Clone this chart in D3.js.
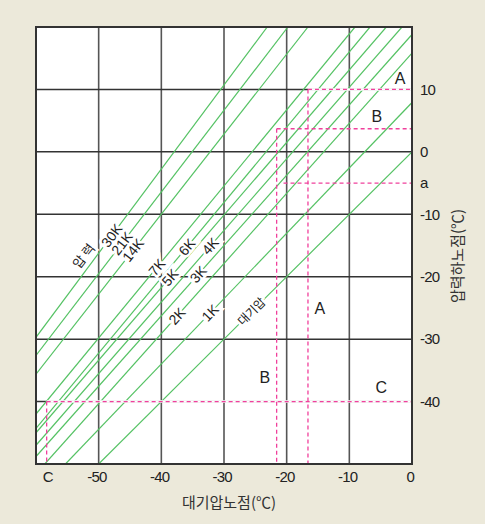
<!DOCTYPE html>
<html>
<head>
<meta charset="utf-8">
<script src="https://d3js.org/d3.v7.min.js"></script>
<style>
  body { margin: 0; background: #ece9da; }
  text { font-family: "Liberation Sans", Arial, sans-serif; fill: #222; }
  .kr { font-family: "Noto Sans CJK KR", sans-serif; }
</style>
</head>
<body>
<div id="chart"></div>
<script>
// pressure lines (atmospheric dew point -> pressure dew point), two points each
const lineNames = ["30K", "21K", "14K", "7K", "6K", "5K", "4K", "3K", "2K", "1K", "대기압"];
const lowEnd  = [[-60, -29.7], [-60, -32.6], [-60, -35.6], [-60, -42.0], [-60, -44.3], [-60, -45.0],
                 [-60, -47.0], [-60, -48.8], [-58.6, -50], [-55.3, -50], [-50, -50]];
const highEnd = [[-23.1, 20], [-19.8, 20], [-16.6, 20], [-9.1, 20], [-6.7, 20], [-4.1, 20],
                 [-1.6, 20], [0, 18.8], [0, 15.8], [0, 7.9], [0, 0]];

// tick values
const xTicks = [-50, -40, -30, -20, -10, 0];
const yTicks = [10, 0, -10, -20, -30, -40];

// dashed reading guides
const guideH = [{y: 10, x0: -16.6, x1: 0}, {y: 3.7, x0: -21.6, x1: 0},
                {y: -5, x0: -20.5, x1: 0}, {y: -40, x0: -58.3, x1: 0}];
const guideV = [{x: -16.6, y0: 10, y1: -50}, {x: -21.6, y0: 3.7, y1: -50},
                {x: -58.3, y0: -40, y1: -50}];
const regionText = [{t: "A", x: -1.9, y: 11.8}, {t: "B", x: -5.6, y: 5.6},
                    {t: "A", x: -14.7, y: -25}, {t: "B", x: -23.5, y: -36.2},
                    {t: "C", x: -4.9, y: -37.8}];

// where along each line (atm. dew point) its label sits
const labelAt = [-47.9, -46.3, -44.5, -40.7, -35.9, -38.6, -32.2, -34.1, -37.5, -32.2, -25.6];

const width = 485, height = 524;
const svg = d3.select('#chart').append('svg')
  .attr('width', width).attr('height', height);

const x = d3.scaleLinear().domain([-60, 0]).range([36, 412]);
const y = d3.scaleLinear().domain([-50, 20]).range([464, 27]);

svg.append('clipPath').attr('id', 'plot')
  .append('rect').attr('x', 36).attr('y', 27).attr('width', 376).attr('height', 437);

svg.append('rect').attr('x', 36).attr('y', 27).attr('width', 376).attr('height', 437)
  .attr('fill', '#fff');

// grid
svg.selectAll('.vg').data(xTicks.slice(0, -1)).enter().append('line')
  .attr('x1', d => x(d)).attr('x2', d => x(d)).attr('y1', 27).attr('y2', 464)
  .attr('stroke', '#555').attr('stroke-width', 1.6);
svg.selectAll('.hg').data(yTicks).enter().append('line')
  .attr('x1', 36).attr('x2', 412).attr('y1', d => y(d)).attr('y2', d => y(d))
  .attr('stroke', '#333').attr('stroke-width', 1.5);

// pressure lines
const g = svg.append('g').attr('clip-path', 'url(#plot)');
g.selectAll('.pl').data(lineNames).enter().append('line')
  .attr('x1', (d, i) => x(lowEnd[i][0])).attr('y1', (d, i) => y(lowEnd[i][1]))
  .attr('x2', (d, i) => x(highEnd[i][0])).attr('y2', (d, i) => y(highEnd[i][1]))
  .attr('stroke', '#55c264').attr('stroke-width', 1.2);

// guides: white underlay where they sit on a grid line
guideH.filter(d => d.y % 10 === 0).forEach(d => {
  svg.append('line').attr('x1', x(d.x0)).attr('x2', x(d.x1)).attr('y1', y(d.y)).attr('y2', y(d.y))
    .attr('stroke', '#fff').attr('stroke-width', 2.5);
});
svg.selectAll('.gh').data(guideH).enter().append('line')
  .attr('x1', d => x(d.x0)).attr('x2', d => x(d.x1)).attr('y1', d => y(d.y)).attr('y2', d => y(d.y))
  .attr('stroke', '#f0409c').attr('stroke-width', 1.3).attr('stroke-dasharray', '4,3');
svg.selectAll('.gv').data(guideV).enter().append('line')
  .attr('x1', d => x(d.x)).attr('x2', d => x(d.x)).attr('y1', d => y(d.y0)).attr('y2', d => y(d.y1))
  .attr('stroke', '#f0409c').attr('stroke-width', 1.3).attr('stroke-dasharray', '4,3');

// line labels
function lineY(i, xv) {
  const [ax, ay] = lowEnd[i], [bx, by] = highEnd[i];
  return ay + (by - ay) * (xv - ax) / (bx - ax);
}
lineNames.forEach((name, i) => {
  const px = x(labelAt[i]), py = y(lineY(i, labelAt[i]));
  const ang = Math.atan2(y(highEnd[i][1]) - y(lowEnd[i][1]), x(highEnd[i][0]) - x(lowEnd[i][0])) * 180 / Math.PI;
  svg.append('text')
    .attr('class', i === 10 ? 'kr' : null)
    .attr('transform', `translate(${px},${py}) rotate(${ang})`)
    .attr('text-anchor', 'middle').attr('dy', '0.35em')
    .style('font-size', i === 10 ? '12px' : '14px')
    .style('stroke', '#fff').style('stroke-width', 5).style('paint-order', 'stroke')
    .text(name);
});
svg.append('text').attr('class', 'kr')
  .attr('transform', 'translate(84,256) rotate(-52)')
  .attr('text-anchor', 'middle').attr('dy', '0.35em').style('font-size', '13px')
  .style('stroke', '#fff').style('stroke-width', 5).style('paint-order', 'stroke')
  .text('압  력');

// region letters
svg.selectAll('.rt').data(regionText).enter().append('text')
  .attr('x', d => x(d.x)).attr('y', d => y(d.y)).attr('dy', '0.35em')
  .attr('text-anchor', 'middle').style('font-size', '16px')
  .text(d => d.t);

// frame
svg.append('rect').attr('x', 36).attr('y', 27).attr('width', 376).attr('height', 437)
  .attr('fill', 'none').attr('stroke', '#333').attr('stroke-width', 2);

// axes
const xAxis = svg.append('g').attr('transform', 'translate(0,464)')
  .call(d3.axisBottom(x).tickValues(xTicks).tickSize(0).tickPadding(7).tickFormat(d => String(d)));
const yAxis = svg.append('g').attr('transform', 'translate(412,0)')
  .call(d3.axisRight(y).tickValues(yTicks).tickSize(0).tickPadding(8).tickFormat(d => String(d)));
[xAxis, yAxis].forEach(a => {
  a.select('.domain').remove();
  a.selectAll('text').style('font-size', '15px').style('letter-spacing', '-0.8px')
    .attr('fill', '#222').style('font-family', '"Liberation Sans", Arial, sans-serif');
});
xAxis.selectAll('text').attr('dx', '-0.15em');
svg.append('text').attr('x', x(-58.3) + 1.5).attr('y', 481.5).attr('text-anchor', 'middle')
  .style('font-size', '15px').text('C');
svg.append('text').attr('x', 420).attr('y', y(-5)).attr('dy', '0.32em')
  .style('font-size', '15px').text('a');

// axis titles
svg.append('text').attr('class', 'kr').attr('x', 229).attr('y', 508)
  .attr('text-anchor', 'middle').style('font-size', '15px').style('fill', '#333')
  .text('대기압노점(℃)');
svg.append('text').attr('class', 'kr')
  .attr('transform', 'translate(463,256) rotate(-90)')
  .attr('text-anchor', 'middle').style('font-size', '15px').style('fill', '#333')
  .text('압력하노점(℃)');
</script>
</body>
</html>
